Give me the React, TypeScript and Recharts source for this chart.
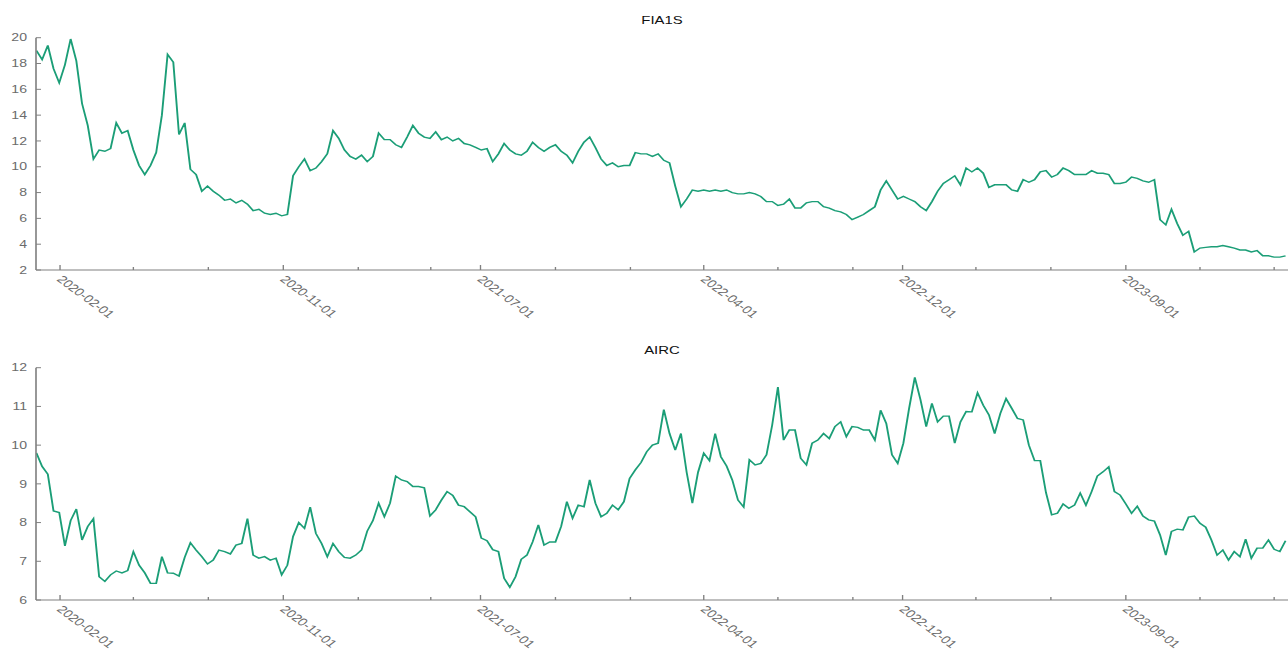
import React from "react";
import { LineChart, Line, XAxis, YAxis } from "recharts";

// ---- data (weekly closes, starting Fri 2020-01-03) ----
const FIRST_DATE = "2020-01-03";

const FIA1S_VALUES = [
  19.0, 18.3, 19.4, 17.6, 16.5, 17.9, 19.9, 18.2, 14.9, 13.2,
  10.6, 11.3, 11.2, 11.4, 13.4, 12.6, 12.8, 11.3, 10.1, 9.4,
  10.1, 11.1, 14.0, 18.7, 18.1, 12.5, 13.4, 9.8, 9.4, 8.1,
  8.5, 8.1, 7.8, 7.4, 7.5, 7.2, 7.4, 7.1, 6.6, 6.7,
  6.4, 6.3, 6.4, 6.2, 6.3, 9.3, 10.0, 10.6, 9.7, 9.9,
  10.4, 11.0, 12.8, 12.2, 11.3, 10.8, 10.6, 10.9, 10.4, 10.8,
  12.6, 12.1, 12.1, 11.7, 11.5, 12.3, 13.2, 12.6, 12.3, 12.2,
  12.7, 12.1, 12.3, 12.0, 12.2, 11.8, 11.7, 11.5, 11.3, 11.4,
  10.4, 11.0, 11.8, 11.3, 11.0, 10.9, 11.2, 11.9, 11.5, 11.2,
  11.5, 11.7, 11.2, 10.9, 10.3, 11.2, 11.9, 12.3, 11.5, 10.6,
  10.1, 10.3, 10.0, 10.1, 10.1, 11.1, 11.0, 11.0, 10.8, 11.0,
  10.5, 10.3, 8.5, 6.9, 7.5, 8.2, 8.1, 8.2, 8.1, 8.2,
  8.1, 8.2, 8.0, 7.9, 7.9, 8.0, 7.9, 7.7, 7.3, 7.3,
  7.0, 7.1, 7.5, 6.8, 6.8, 7.2, 7.3, 7.3, 6.9, 6.8,
  6.6, 6.5, 6.3, 5.9, 6.1, 6.3, 6.6, 6.9, 8.2, 8.9,
  8.2, 7.5, 7.7, 7.5, 7.3, 6.9, 6.6, 7.3, 8.1, 8.7,
  9.0, 9.3, 8.6, 9.9, 9.6, 9.9, 9.5, 8.4, 8.6, 8.6,
  8.6, 8.2, 8.1, 9.0, 8.8, 9.0, 9.6, 9.7, 9.2, 9.4,
  9.9, 9.7, 9.4, 9.4, 9.4, 9.7, 9.5, 9.5, 9.4, 8.7,
  8.7, 8.8, 9.2, 9.1, 8.9, 8.8, 9.0, 5.9, 5.5, 6.7,
  5.6, 4.7, 5.0, 3.4, 3.7, 3.75, 3.8, 3.8, 3.9, 3.8,
  3.7, 3.55, 3.55, 3.4, 3.5, 3.1, 3.1, 3.0, 3.0, 3.1,
];

const AIRC_VALUES = [
  9.8, 9.45, 9.25, 8.3, 8.26, 7.4, 8.05, 8.35, 7.55, 7.9,
  8.1, 6.6, 6.48, 6.65, 6.75, 6.7, 6.76, 7.25, 6.9, 6.7,
  6.43, 6.43, 7.12, 6.7, 6.69, 6.62, 7.1, 7.48, 7.29, 7.12,
  6.93, 7.03, 7.29, 7.25, 7.19, 7.42, 7.46, 8.1, 7.16, 7.08,
  7.12, 7.03, 7.08, 6.65, 6.9, 7.64, 8.0, 7.85, 8.4, 7.72,
  7.46, 7.12, 7.46, 7.25, 7.1, 7.08, 7.16, 7.29, 7.78, 8.05,
  8.5, 8.15, 8.5, 9.2, 9.1, 9.06, 8.93, 8.93, 8.9, 8.17,
  8.33, 8.58, 8.8, 8.7, 8.45, 8.41, 8.28, 8.15, 7.6, 7.53,
  7.3, 7.25, 6.56, 6.33, 6.6, 7.05, 7.16, 7.5, 7.94, 7.42,
  7.5, 7.5, 7.9, 8.54, 8.11, 8.45, 8.41, 9.1, 8.5, 8.15,
  8.24, 8.45, 8.33, 8.54, 9.14, 9.36, 9.55, 9.83, 10.0, 10.05,
  10.92, 10.3, 9.87, 10.3, 9.3, 8.5, 9.3, 9.79, 9.6, 10.3,
  9.7, 9.46, 9.1, 8.58, 8.4, 9.62, 9.49, 9.53, 9.75, 10.52,
  11.5, 10.13, 10.39, 10.39, 9.66, 9.49, 10.05, 10.13, 10.3, 10.17,
  10.48, 10.6, 10.22, 10.48, 10.46, 10.39, 10.39, 10.13, 10.9, 10.56,
  9.75, 9.53, 10.05, 10.95, 11.75, 11.17, 10.48, 11.08, 10.6, 10.75,
  10.75, 10.05, 10.6, 10.87, 10.86, 11.35, 11.03, 10.78, 10.3, 10.82,
  11.2, 10.95, 10.69, 10.65, 10.0, 9.6, 9.6, 8.77, 8.2, 8.24,
  8.48, 8.37, 8.45, 8.76, 8.45, 8.8, 9.2, 9.31, 9.44, 8.8,
  8.71, 8.48, 8.24, 8.42, 8.17, 8.07, 8.04, 7.68, 7.16, 7.77,
  7.83, 7.81, 8.14, 8.17, 7.98, 7.88, 7.55, 7.16, 7.29, 7.03,
  7.25, 7.12, 7.57, 7.08, 7.34, 7.34, 7.55, 7.31, 7.25, 7.53,
];

const MAJOR_TICKS = ["2020-02-01", "2020-11-01", "2021-07-01", "2022-04-01", "2022-12-01", "2023-09-01"];
const MINOR_TICKS = [
  "2020-05-01", "2020-08-01", "2021-02-01", "2021-05-01", "2021-10-01", "2022-01-01",
  "2022-07-01", "2022-10-01", "2023-03-01", "2023-06-01", "2023-12-01", "2024-03-01",
];
const FIA1S_TICKS = [2, 4, 6, 8, 10, 12, 14, 16, 18, 20];
const AIRC_TICKS = [6, 7, 8, 9, 10, 11, 12];
const X_DOMAIN = ["2020-01-02T12:00:00Z", "2024-03-18T00:00:00Z"];

// ---- layout / style ----
const S = 1288 / 950; // horizontal stretch of the reference
const W = 950;
const Y_AXIS_W = 26.55;
const LINE_COLOR = "#1b9e77";
const AXIS_COLOR = "#808080";
const LABEL_COLOR = "#6b6b6b";
const FONT = "'Liberation Sans', Arial, Helvetica, sans-serif";

const DAY = 86400000;
const start = Date.parse(FIRST_DATE);
const fiaData = FIA1S_VALUES.map((v, i) => ({ t: start + i * 7 * DAY, v }));
const aircData = AIRC_VALUES.map((v, i) => ({ t: start + i * 7 * DAY, v }));
const majorTs = MAJOR_TICKS.map((d) => Date.parse(d));
const allTicks = [...MAJOR_TICKS, ...MINOR_TICKS].map((d) => Date.parse(d)).sort((a, b) => a - b);
const xDomain = X_DOMAIN.map((d) => Date.parse(d));

const fmt = (ts: number) => new Date(ts).toISOString().slice(0, 10);

const XTick = (props: any) => {
  const { x, y, payload } = props;
  const isMajor = majorTs.includes(payload.value);
  const tx = x - 3;
  const ty = y + 10;
  return (
    <g>
      <line x1={x} x2={x} y1={y} y2={y - (isMajor ? 5 : 3)} stroke={AXIS_COLOR} strokeWidth={1} />
      {isMajor && (
        <text
          x={tx}
          y={ty}
          transform={`rotate(45 ${tx} ${ty})`}
          textAnchor="start"
          fontSize={10.7}
          fontFamily={FONT}
          fill={LABEL_COLOR}
        >
          {fmt(payload.value)}
        </text>
      )}
    </g>
  );
};

const YTick = (props: any) => {
  const { x, y, payload } = props;
  return (
    <g>
      <line x1={x} x2={x + 3.7} y1={y} y2={y} stroke={AXIS_COLOR} strokeWidth={1} />
      <text x={x - 6.6} y={y} dy="0.36em" textAnchor="end" fontSize={10.4} fontFamily={FONT} fill={LABEL_COLOR}>
        {payload.value}
      </text>
    </g>
  );
};

function Panel(props: { data: any[]; height: number; xHeight: number; domain: number[]; ticks: number[] }) {
  const { data, height, xHeight, domain, ticks } = props;
  return (
    <LineChart width={W} height={height} data={data} margin={{ top: 37.7, right: 0, bottom: 0, left: 0 }}>
      <XAxis
        dataKey="t"
        type="number"
        domain={xDomain}
        allowDataOverflow
        ticks={allTicks}
        interval={0}
        height={xHeight}
        tickSize={0}
        tickMargin={0}
        tickLine={false}
        axisLine={{ stroke: AXIS_COLOR, strokeWidth: 1.2 }}
        tick={<XTick />}
      />
      <YAxis
        type="number"
        domain={domain}
        ticks={ticks}
        interval={0}
        width={Y_AXIS_W}
        tickSize={0}
        tickMargin={0}
        tickLine={false}
        axisLine={{ stroke: AXIS_COLOR, strokeWidth: 1.2 }}
        tick={<YTick />}
      />
      <Line
        type="linear"
        dataKey="v"
        stroke={LINE_COLOR}
        strokeWidth={1.4}
        dot={false}
        activeDot={false}
        isAnimationActive={false}
      />
    </LineChart>
  );
}

export default function App() {
  const cx = (Y_AXIS_W + W) / 2;
  return (
    <div style={{ position: "absolute", left: 0, top: 0, width: 1288, height: 652, overflow: "hidden", background: "#fff" }}>
      <div
        style={{
          position: "relative",
          width: W,
          height: 652,
          transform: `scaleX(${S})`,
          transformOrigin: "0 0",
          fontFamily: FONT,
        }}
      >
        <div style={{ position: "absolute", left: 0, top: 0 }}>
          <Panel data={fiaData} height={330} xHeight={60} domain={[2, 20]} ticks={FIA1S_TICKS} />
        </div>
        <div style={{ position: "absolute", left: 0, top: 330 }}>
          <Panel data={aircData} height={322} xHeight={52} domain={[6, 12]} ticks={AIRC_TICKS} />
        </div>
        <svg width={W} height={652} style={{ position: "absolute", left: 0, top: 0, pointerEvents: "none" }}>
          <text x={cx} y={24} textAnchor="middle" fontSize={11} fontFamily={FONT} fill="#111">
            FIA1S
          </text>
          <text x={cx} y={354} textAnchor="middle" fontSize={11} fontFamily={FONT} fill="#111">
            AIRC
          </text>
        </svg>
      </div>
    </div>
  );
}
